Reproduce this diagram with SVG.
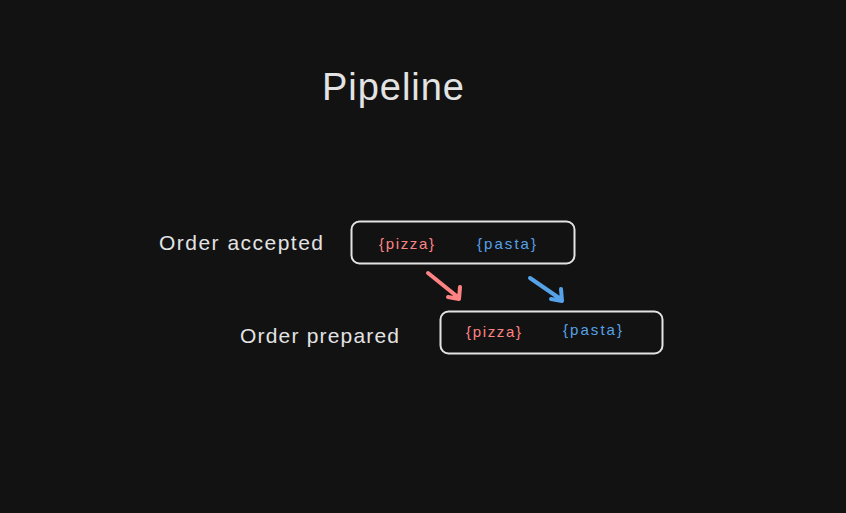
<svg xmlns="http://www.w3.org/2000/svg" width="846" height="513" viewBox="0 0 846 513">
<defs>
<style>
.lbl{font-family:"Liberation Sans",Arial,sans-serif;fill:#e3e3e3;font-size:21px}
.title{font-family:"Liberation Sans",Arial,sans-serif;fill:#e3e3e3;font-size:38px}
.tok{font-family:"Liberation Sans",Arial,sans-serif;font-size:15px}
.red{fill:#ff8383}
.blue{fill:#56a2e8}
.box{fill:none;stroke:#e3e3e3;stroke-width:2}
.arr{fill:none;stroke-width:4;stroke-linecap:round;stroke-linejoin:round}
</style>
</defs>
<rect width="846" height="513" fill="#121212"/>
<g id="title"><text class="title" x="322" y="100" textLength="142">Pipeline</text></g>
<g id="accepted">
<text class="lbl" x="159" y="250" textLength="164">Order accepted</text>
<rect class="box" x="351.5" y="221.5" width="223" height="42" rx="8"/>
<text class="tok red" x="379" y="249" textLength="55">{pizza}</text>
<text class="tok blue" x="477" y="249" textLength="59">{pasta}</text>
</g>
<g id="prepared">
<text class="lbl" x="240" y="343" textLength="159">Order prepared</text>
<rect class="box" x="440.5" y="311.5" width="222" height="42" rx="8"/>
<text class="tok red" x="466" y="337" textLength="55">{pizza}</text>
<text class="tok blue" x="563" y="335" textLength="59">{pasta}</text>
</g>
<g id="connectors">
<path class="arr" stroke="#ff8383" d="M428 273 L459 298 M448 297 L459 299 L460 287"/>
<path class="arr" stroke="#56a2e8" d="M530 278 L562 300 M551 299 L562 301 L561 289"/>
</g>
</svg>
